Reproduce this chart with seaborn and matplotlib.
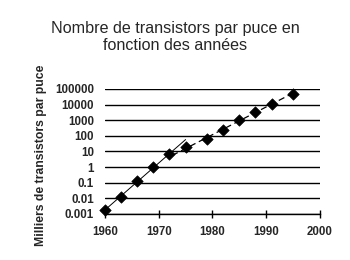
import numpy as np
import pandas as pd
import matplotlib
matplotlib.use("Agg")
import matplotlib.pyplot as plt
import seaborn as sns

years = [1960, 1963, 1966, 1969, 1972, 1975, 1979, 1982, 1985, 1988, 1991, 1995]
transistors_k = [0.0018, 0.013, 0.13, 1.0, 6.5, 18, 63, 235, 1000, 3450, 11500, 49000]
yticks = [0.001, 0.01, 0.1, 1, 10, 100, 1000, 10000, 100000]
ytick_labels = ["0.001", "0.01", "0.1", "1", "10", "100", "1000", "10000", "100000"]
xticks = [1960, 1970, 1980, 1990, 2000]

df = pd.DataFrame({"year": years, "val": transistors_k})

sns.set_theme(style="white")
plt.rcParams['font.family'] = ['Liberation Sans', 'DejaVu Sans']

fig = plt.figure(figsize=(3.5, 2.6), dpi=100)
ax = fig.add_axes([0.30, 0.177, 0.614, 0.481])

# trend lines (log-linear fits)
early = df[df.year <= 1972]
late = df[df.year >= 1975]
p1 = np.polyfit(early.year, np.log10(early.val), 1)
p2 = np.polyfit(late.year, np.log10(late.val), 1)
x1 = np.array([1960, 1975])
x2 = np.array([1972.5, 1995])
t1 = pd.DataFrame({"year": x1, "val": 10 ** np.polyval(p1, x1)})
t2 = pd.DataFrame({"year": x2, "val": 10 ** np.polyval(p2, x2)})

sns.lineplot(data=t1, x="year", y="val", ax=ax, color="black", lw=0.7)
sns.lineplot(data=t2, x="year", y="val", ax=ax, color="black", lw=0.9,
             linestyle=(0, (5, 3)))
sns.scatterplot(data=df, x="year", y="val", ax=ax, marker="D", s=34,
                color="black", edgecolor="black", zorder=5, clip_on=False)

ax.set_yscale("log")
ax.set_ylim(0.001, 100000)
ax.set_xlim(1960, 2000)
ax.set_yticks(yticks)
ax.set_yticklabels(ytick_labels)
ax.minorticks_off()
ax.set_xticks(xticks)
ax.set_xticklabels([str(x) for x in xticks])
for s in ["top", "right", "left"]:
    ax.spines[s].set_visible(False)
ax.spines["bottom"].set_color("black")
ax.spines["bottom"].set_linewidth(1)
ax.grid(axis="y", color="black", lw=1)
ax.grid(axis="x", visible=False)
ax.tick_params(axis="y", length=0, pad=8, labelsize=8.3)
ax.tick_params(axis="x", direction="inout", length=6, width=1, color="black",
               pad=6, labelsize=8.3, bottom=True)
for lab in ax.get_xticklabels() + ax.get_yticklabels():
    lab.set_fontweight("bold")
ax.set_xlabel("")
ax.set_ylabel("Milliers de transistors par puce", fontsize=8.8, fontweight="bold")
ax.yaxis.set_label_coords(-0.271, 0.47)
fig.text(0.5, 0.858, "Nombre de transistors par puce en\nfonction des années",
         ha="center", va="center", fontsize=11.6, linespacing=1.2)

fig.savefig("out.png", dpi=100, facecolor="white")
